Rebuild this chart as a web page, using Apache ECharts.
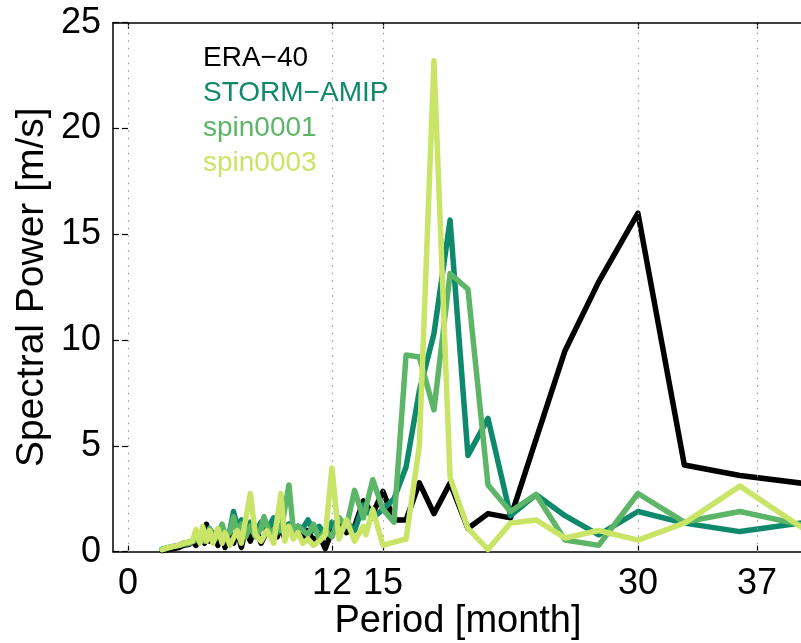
<!DOCTYPE html>
<html><head><meta charset="utf-8">
<script src="https://cdn.jsdelivr.net/npm/echarts@6/dist/echarts.min.js"></script>
<style>html,body{margin:0;padding:0;background:#fff}#c{width:801px;height:643px}</style>
</head><body><div id="c"></div>
<script>
// ---- data (period in months, spectral power in m/s) ----
const seriesNames = ['ERA\u221240', 'STORM\u2212AMIP', 'spin0001', 'spin0003'];
const seriesColors = ['#000000', '#0f896b', '#5db568', '#c9e467'];
const xTickValues = [0, 12, 15, 30, 37];

const era40 = [[2.0,0.05],[2.4,0.1],[2.67,0.15],[3.0,0.2],[3.27,0.3],[3.6,0.35],[3.79,0.5],[4.0,0.3],[4.24,0.7],[4.5,0.4],[4.62,1.3],[4.8,0.5],[5.0,0.9],[5.29,0.3],[5.54,0.8],[5.71,0.2],[6.0,0.9],[6.21,0.4],[6.43,1.0],[6.67,0.2],[6.92,1.1],[7.2,0.5],[7.5,1.2],[7.83,0.4],[8.18,1.0],[8.57,1.5],[8.78,0.7],[9.0,1.2],[9.23,0.6],[9.47,1.3],[9.73,0.8],[10.0,1.2],[10.29,0.6],[10.59,1.0],[10.91,0.5],[11.25,0.8],[11.61,0.15],[12.0,1.0],[12.41,1.6],[12.86,0.9],[13.33,1.2],[13.85,2.4],[14.4,1.8],[15.0,2.85],[15.65,1.5],[16.36,1.5],[17.14,3.25],[18.0,1.8],[18.95,3.25],[20.0,1.1],[21.18,1.8],[22.5,1.6],[24.0,5.3],[25.71,9.5],[27.69,12.75],[30.0,16.0],[32.73,4.1],[36.0,3.6],[40.0,3.2]];

const stormAmip = [[2.0,0.12],[2.4,0.2],[2.67,0.25],[3.0,0.3],[3.27,0.4],[3.6,0.45],[4.0,0.6],[4.24,0.8],[4.5,0.6],[4.8,1.0],[5.14,0.7],[5.54,1.2],[5.71,0.8],[6.0,1.0],[6.21,1.9],[6.43,1.2],[6.67,1.5],[6.92,0.8],[7.2,1.4],[7.5,0.9],[7.83,1.4],[8.18,1.0],[8.57,1.6],[8.78,0.9],[9.0,1.1],[9.47,1.3],[9.73,0.9],[10.0,1.2],[10.29,1.1],[10.59,1.5],[10.91,1.0],[11.25,1.2],[11.61,0.8],[12.0,1.4],[12.41,0.9],[12.86,1.4],[13.33,1.0],[13.85,2.2],[14.4,1.6],[15.0,2.0],[15.65,2.5],[16.36,4.0],[17.14,7.6],[18.0,10.3],[18.95,15.67],[20.0,4.55],[21.18,6.3],[22.5,1.7],[24.0,2.7],[25.71,1.7],[27.69,0.8],[30.0,1.9],[32.73,1.35],[36.0,0.95],[40.0,1.4]];

const spin0001 = [[2.0,0.1],[2.4,0.18],[2.67,0.25],[3.0,0.3],[3.27,0.35],[3.6,0.4],[4.0,0.55],[4.24,0.7],[4.5,0.5],[4.8,1.1],[5.14,0.6],[5.54,1.3],[5.71,0.7],[6.0,0.9],[6.21,1.65],[6.43,0.9],[6.67,1.3],[6.92,0.7],[7.2,1.2],[7.5,0.7],[7.83,1.1],[8.0,1.65],[8.37,0.8],[8.78,1.3],[9.0,1.0],[9.47,3.15],[9.73,1.0],[10.0,1.2],[10.29,1.0],[10.59,0.8],[10.91,1.3],[11.25,0.6],[11.61,1.0],[12.0,0.7],[12.41,1.6],[12.86,1.2],[13.33,2.9],[13.85,1.6],[14.4,3.4],[15.0,2.0],[15.65,1.4],[16.36,9.3],[17.14,9.2],[18.0,6.7],[18.95,13.15],[20.0,12.4],[21.18,3.15],[22.5,1.9],[24.0,2.7],[25.71,0.55],[27.69,0.3],[30.0,2.75],[32.73,1.4],[36.0,1.9],[40.0,1.2]];

const spin0003 = [[2.0,0.1],[2.4,0.2],[2.67,0.25],[3.0,0.3],[3.27,0.4],[3.6,0.45],[3.79,0.5],[4.0,1.05],[4.24,0.4],[4.39,1.2],[4.62,0.5],[4.8,1.0],[5.0,0.4],[5.29,1.1],[5.54,0.4],[5.71,0.9],[6.0,0.3],[6.43,1.0],[6.67,0.4],[7.2,2.75],[7.5,0.8],[7.83,0.5],[8.18,1.0],[8.57,0.4],[9.0,2.75],[9.23,0.5],[9.47,1.2],[9.73,0.6],[10.0,0.9],[10.29,0.4],[10.59,0.6],[10.91,0.3],[11.25,0.5],[11.61,0.8],[12.0,3.95],[12.41,0.6],[12.86,1.5],[13.33,0.5],[13.85,1.2],[14.0,0.8],[14.4,2.0],[15.0,0.3],[15.65,0.45],[16.36,0.6],[17.14,5.0],[18.0,23.2],[18.95,3.5],[20.0,1.1],[21.18,0.1],[22.5,1.35],[24.0,1.5],[25.71,0.65],[27.69,1.0],[30.0,0.55],[32.73,1.35],[36.0,3.1],[40.0,0.95]];

const seriesData = [era40, stormAmip, spin0001, spin0003];

// ---- chart ----
const chart = echarts.init(document.getElementById('c'), null, {renderer: 'canvas'});
const font = 'Liberation Sans, Arial, Helvetica, sans-serif';
const xMin = -0.88, xMax = 39.71;

const baseX = {
  type: 'value', min: xMin, max: xMax,
  axisLine: {show: true, onZero: false, lineStyle: {color: '#000', width: 1.5}},
  axisTick: {show: true, inside: true, length: 6, customValues: xTickValues, lineStyle: {color: '#000', width: 1.2}},
  splitLine: {show: false}
};
const baseY = {
  type: 'value', min: 0, max: 25, interval: 5,
  axisLine: {show: true, onZero: false, lineStyle: {color: '#000', width: 1.5}},
  axisTick: {show: true, inside: true, length: 6, lineStyle: {color: '#000', width: 1.2}},
  splitLine: {show: false}
};

const series = seriesNames.map((name, i) => ({
  name: name,
  type: 'line',
  data: seriesData[i],
  xAxisIndex: 0, yAxisIndex: 0,
  showSymbol: false, symbol: 'none',
  lineStyle: {color: seriesColors[i], width: 5.5, join: 'round', cap: 'round'},
  itemStyle: {color: seriesColors[i]},
  z: 2 + i,
  clip: true
}));
// vertical dotted grid lines at the x ticks
series.push({
  type: 'line', data: [], xAxisIndex: 0, yAxisIndex: 0, z: 1,
  markLine: {
    silent: true, symbol: ['none', 'none'], label: {show: false},
    lineStyle: {color: '#9a9a9a', width: 1.2, type: [1.5, 6]},
    data: xTickValues.map(v => ({xAxis: v}))
  }
});

chart.setOption({
  animation: false,
  backgroundColor: '#fff',
  textStyle: {fontFamily: font},
  grid: {left: 113, top: 22.7, right: -2, bottom: 91.3, containLabel: false, outerBoundsMode: 'none'},
  legend: {
    orient: 'vertical', left: 193, top: 39,
    itemWidth: 0, itemHeight: 0, itemGap: 7, icon: 'rect',
    selectedMode: false,
    textStyle: {fontSize: 28, fontFamily: font},
    data: seriesNames.map((n, i) => ({name: n, textStyle: {color: seriesColors[i]}}))
  },
  xAxis: [
    Object.assign({}, baseX, {
      position: 'bottom',
      name: 'Period [month]', nameLocation: 'middle', nameGap: 51, nameMoveOverlap: false,
      nameTextStyle: {fontSize: 38, color: '#000', fontFamily: font},
      axisLabel: {show: true, customValues: xTickValues, fontSize: 36, color: '#000', margin: 14, fontFamily: font}
    }),
    Object.assign({}, baseX, {position: 'top', axisLabel: {show: false}})
  ],
  yAxis: [
    Object.assign({}, baseY, {
      position: 'left',
      name: 'Spectral Power [m/s]', nameLocation: 'middle', nameGap: 61, nameMoveOverlap: false,
      nameTextStyle: {fontSize: 39, color: '#000', fontFamily: font},
      axisLabel: {show: true, fontSize: 36, color: '#000', margin: 12, fontFamily: font}
    }),
    Object.assign({}, baseY, {position: 'right', axisLine: {show: false}, axisLabel: {show: false}})
  ],
  series: series
});
</script>
</body></html>
